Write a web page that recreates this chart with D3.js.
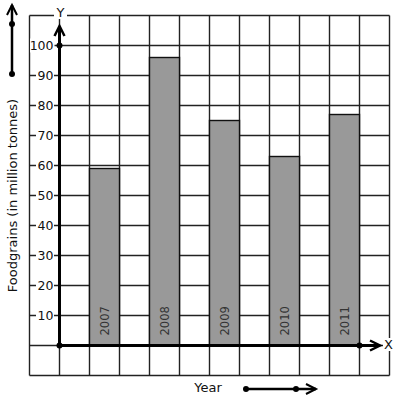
<!DOCTYPE html>
<html>
<head>
<meta charset="utf-8">
<script src="https://cdn.jsdelivr.net/npm/d3@7"></script>
<style>
  body { margin: 0; background: #fff; }
  text { font-family: "DejaVu Sans", sans-serif; }
</style>
</head>
<body>
<svg id="chart" width="397" height="401"></svg>
<script>
var years = ["2007", "2008", "2009", "2010", "2011"];
var production = [59, 96, 75, 63, 77];
var yTicks = [10, 20, 30, 40, 50, 60, 70, 80, 90, 100];

var svg = d3.select("#chart");

// one grid column = 30px, one grid row = 10 units
var x = d3.scaleLinear().domain([-1, 11]).range([29.5, 389.5]),
    y = d3.scaleLinear().domain([-10, 110]).range([375.5, 15.5]);

var g = svg.append("g");

// grid
g.selectAll("line.v").data(d3.range(-1, 12))
  .enter().append("line")
    .attr("x1", d => x(d)).attr("x2", d => x(d))
    .attr("y1", y(110)).attr("y2", y(-10))
    .attr("stroke", "#222").attr("stroke-width", 1.4);
g.selectAll("line.h").data(d3.range(-10, 111, 10))
  .enter().append("line")
    .attr("x1", x(-1)).attr("x2", x(11))
    .attr("y1", d => y(d)).attr("y2", d => y(d))
    .attr("stroke", "#222").attr("stroke-width", 1.4);

// bars
var bars = g.selectAll("g.bar").data(years)
  .enter().append("g");
bars.append("rect")
    .attr("x", (d, i) => x(1 + 2 * i))
    .attr("width", (d, i) => x(2 + 2 * i) - x(1 + 2 * i))
    .attr("y", (d, i) => y(production[i]))
    .attr("height", (d, i) => y(0) - y(production[i]))
    .attr("fill", "#999").attr("stroke", "#111").attr("stroke-width", 1.4);
bars.append("text")
    .attr("transform", (d, i) => "translate(" + (x(1.5 + 2 * i) + 0.5) + "," + (y(0) - 10) + ") rotate(-90)")
    .attr("dominant-baseline", "central")
    .attr("font-size", 11.5)
    .attr("fill", "#333")
    .text(d => d);

// tick labels with white backing
var ticks = g.selectAll("g.tick").data(yTicks)
  .enter().append("g");
ticks.append("rect")
    .attr("x", d => d >= 100 ? 30 : 36)
    .attr("width", d => d >= 100 ? 24.5 : 18)
    .attr("y", d => y(d) - 7).attr("height", 14)
    .attr("fill", "#fff");
ticks.append("text")
    .attr("x", 53.5).attr("y", d => y(d))
    .attr("text-anchor", "end").attr("dominant-baseline", "central")
    .attr("font-size", 12.5).attr("fill", "#111")
    .text(d => d);

// axes
function arrowHead(px, py, dir) {
  // dir: "up" or "right"
  var p = dir == "up"
    ? [[px - 5, py + 10], [px, py], [px + 5, py + 10]]
    : [[px - 10, py - 5], [px, py], [px - 10, py + 5]];
  return d3.line()(p);
}

g.append("line")
    .attr("x1", x(0)).attr("x2", x(0))
    .attr("y1", y(0)).attr("y2", 26)
    .attr("stroke", "#000").attr("stroke-width", 3);
g.append("path").attr("d", arrowHead(x(0), 26, "up"))
    .attr("fill", "none").attr("stroke", "#000").attr("stroke-width", 2.5);
g.append("line")
    .attr("x1", x(0)).attr("x2", 380)
    .attr("y1", y(0)).attr("y2", y(0))
    .attr("stroke", "#000").attr("stroke-width", 3);
g.append("path").attr("d", arrowHead(380, y(0), "right"))
    .attr("fill", "none").attr("stroke", "#000").attr("stroke-width", 2.5);

g.selectAll("circle.ax").data([[x(0), y(0)], [x(0), y(100)], [x(10), y(0)]])
  .enter().append("circle")
    .attr("cx", d => d[0]).attr("cy", d => d[1]).attr("r", 3)
    .attr("fill", "#000");

// axis letters
g.append("rect").attr("x", 54).attr("y", 6).attr("width", 13).attr("height", 13).attr("fill", "#fff");
g.append("text").attr("x", 60.5).attr("y", 12.5)
    .attr("text-anchor", "middle").attr("dominant-baseline", "central")
    .attr("font-size", 13).attr("fill", "#111").text("Y");
g.append("rect").attr("x", 383).attr("y", 338).attr("width", 12).attr("height", 13).attr("fill", "#fff");
g.append("text").attr("x", 388.5).attr("y", 344.5)
    .attr("text-anchor", "middle").attr("dominant-baseline", "central")
    .attr("font-size", 13).attr("fill", "#111").text("X");

// axis titles
svg.append("text")
    .attr("transform", "translate(12,195.5) rotate(-90)")
    .attr("text-anchor", "middle").attr("dominant-baseline", "central")
    .attr("font-size", 13).attr("fill", "#111")
    .text("Foodgrains (in million tonnes)");
svg.append("text")
    .attr("x", 208).attr("y", 387)
    .attr("text-anchor", "middle").attr("dominant-baseline", "central")
    .attr("font-size", 13).attr("fill", "#111")
    .text("Year");

// direction arrows beside the titles
svg.append("line").attr("x1", 12).attr("x2", 12).attr("y1", 74).attr("y2", 5)
    .attr("stroke", "#000").attr("stroke-width", 2.5);
svg.append("path").attr("d", arrowHead(12, 5, "up"))
    .attr("fill", "none").attr("stroke", "#000").attr("stroke-width", 2);
svg.append("line").attr("x1", 246).attr("x2", 316).attr("y1", 389).attr("y2", 389)
    .attr("stroke", "#000").attr("stroke-width", 2.5);
svg.append("path").attr("d", arrowHead(316, 389, "right"))
    .attr("fill", "none").attr("stroke", "#000").attr("stroke-width", 2);
svg.selectAll("circle.dir").data([[12, 24], [12, 74], [246, 389], [296, 389]])
  .enter().append("circle")
    .attr("cx", d => d[0]).attr("cy", d => d[1]).attr("r", 3)
    .attr("fill", "#000");
</script>
</body>
</html>
